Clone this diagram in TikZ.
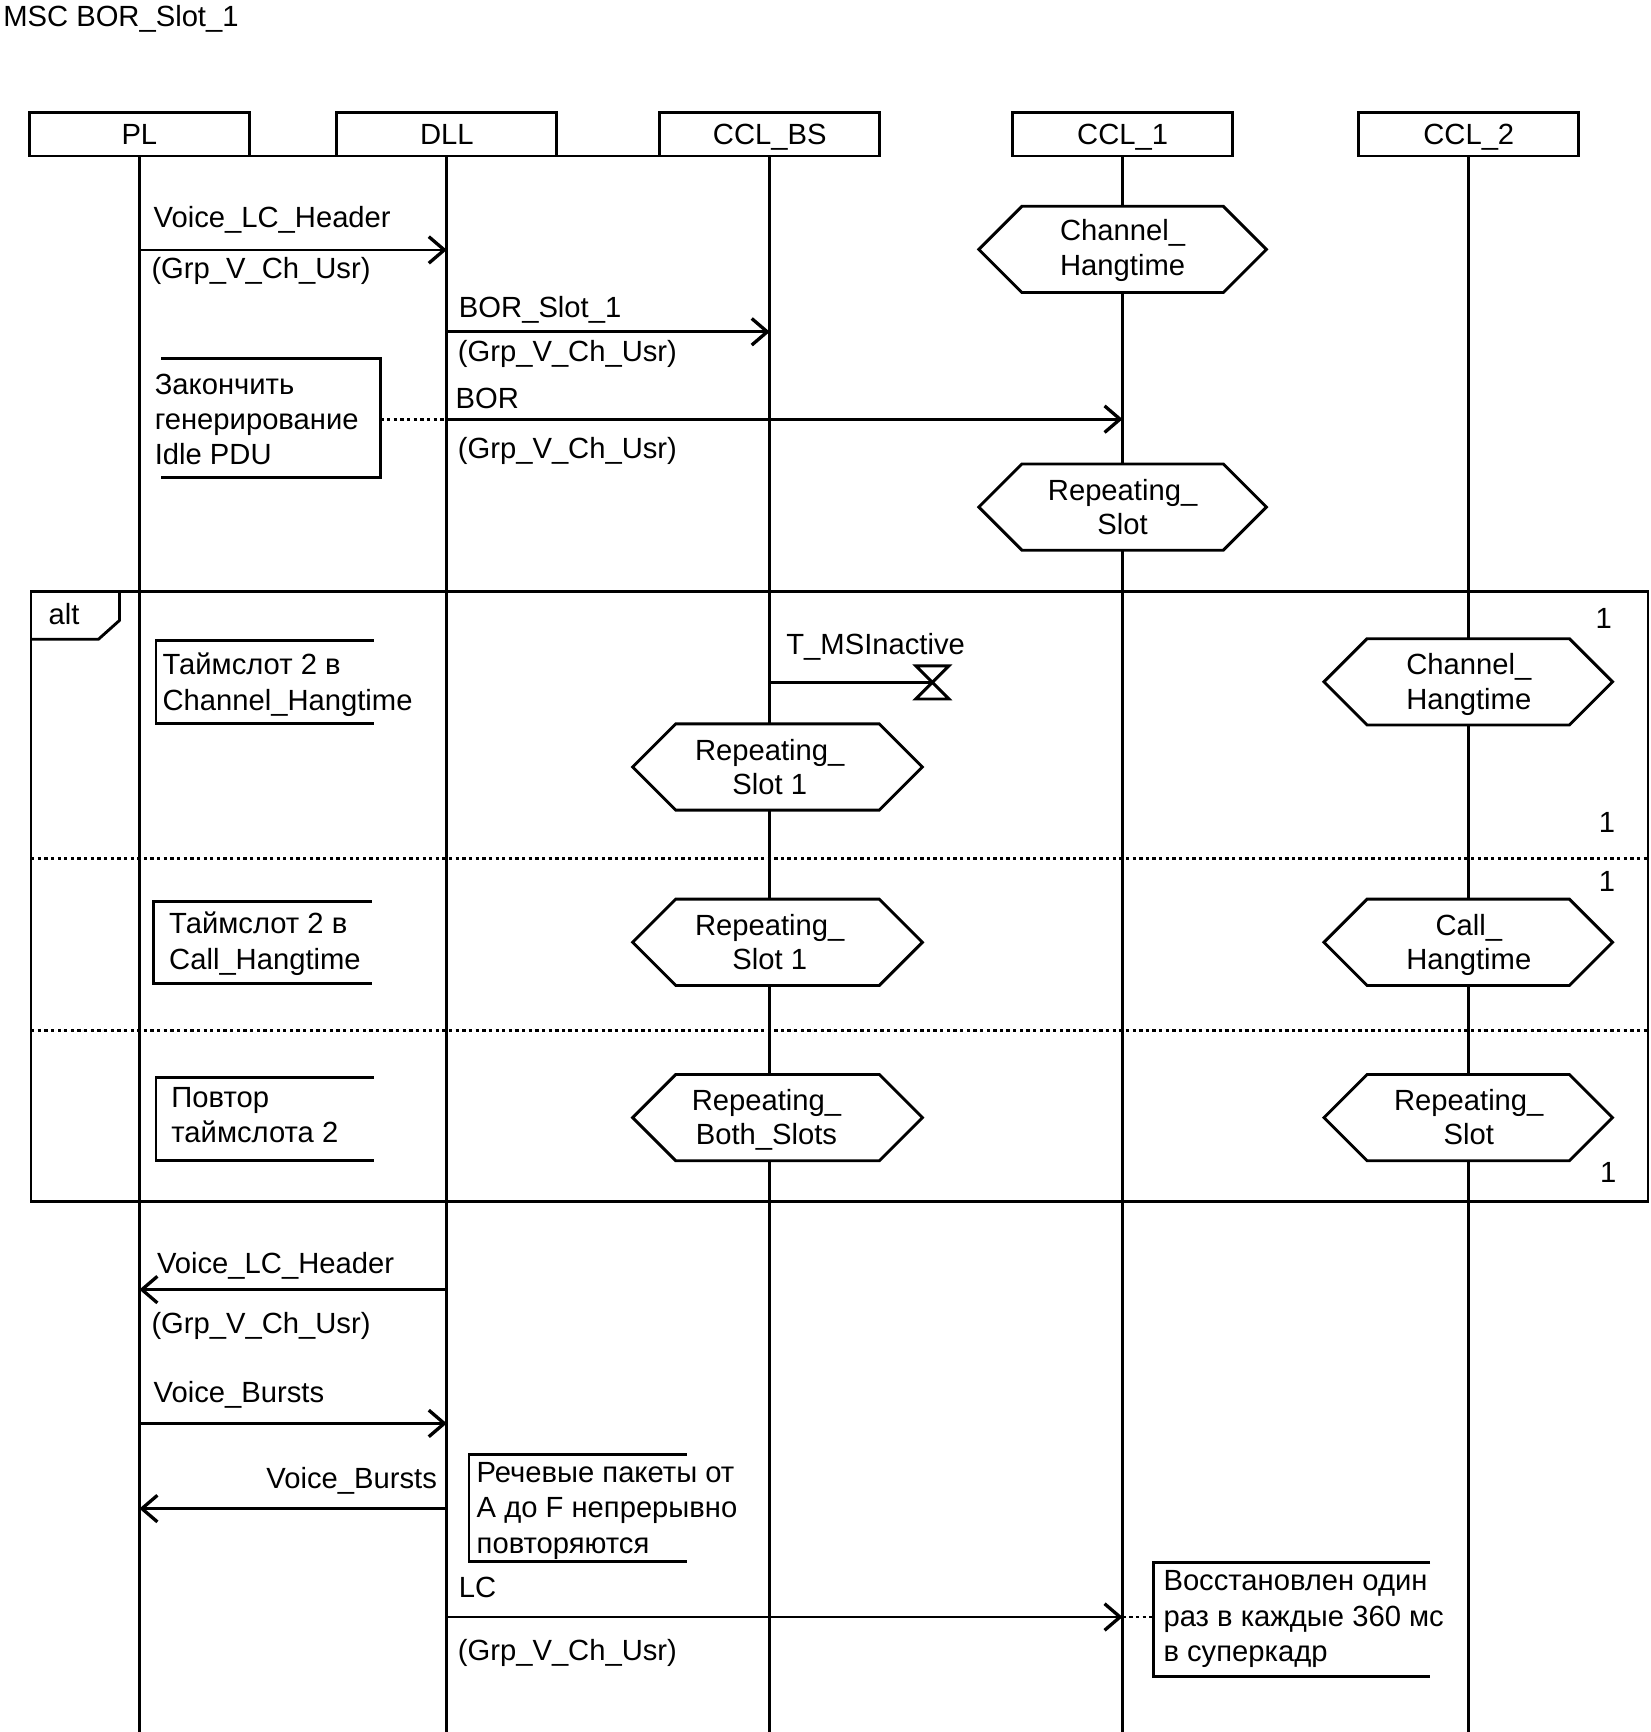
\documentclass[tikz,border=0pt]{standalone}
\usepackage{fontspec}
\setmainfont{Liberation Sans}
\usetikzlibrary{arrows.meta}
\newcommand\hexa[4]{% cx, cy, halfwidth, halfheight
  \draw[ln,fill=white] ({#1-#3},#2) -- ({#1-#3+#4},{#2-#4}) -- ({#1+#3-#4},{#2-#4}) -- ({#1+#3},#2) -- ({#1+#3-#4},{#2+#4}) -- ({#1-#3+#4},{#2+#4}) -- cycle;}
\begin{document}
\begin{tikzpicture}[x=0.5pt,y=-0.5pt,
 every node/.style={inner sep=0pt, outer sep=0pt, font=\fontsize{13.2}{16}\selectfont},
 ln/.style={line width=1.3pt},
 inst/.style={draw, line width=1.3pt, fill=white, minimum width=99.5pt, minimum height=19.5pt, text height=9.5pt, text depth=0pt},
 msg/.style={line width=1.3pt, -{Straight Barb[length=7pt,width=12pt,line width=1.5pt]}},
 lbl/.style={anchor=base west},
 num/.style={anchor=base},
 dotln/.style={line width=1.3pt, dash pattern=on 1.5pt off 1.5pt},
 sepln/.style={line width=1.2pt, dash pattern=on 1.5pt off 1.5pt},
 hextxt/.style={align=center, font=\fontsize{13.2}{15.5}\selectfont},
 note/.style={align=left, anchor=north west}]

\useasboundingbox (0,0) rectangle (1492,1566);

\node[lbl] (title) at (3,24) {MSC BOR\_Slot\_1};

% lifeline ends
\coordinate (PLend) at (126,1566);
\coordinate (DLLend) at (404,1566);
\coordinate (BSend) at (696,1566);
\coordinate (C1end) at (1015,1566);
\coordinate (C2end) at (1328,1566);

% instance heads
\node[inst] (PL) at (126,121.5) {PL};
\node[inst] (DLL) at (404,121.5) {DLL};
\node[inst] (BS) at (696,121.5) {CCL\_BS};
\node[inst] (C1) at (1015,121.5) {CCL\_1};
\node[inst] (C2) at (1328,121.5) {CCL\_2};

\draw[ln] (PL.south) -- (PLend);
\draw[ln] (DLL.south) -- (DLLend);
\draw[ln] (BS.south) -- (BSend);
\draw[ln] (C1.south) -- (C1end);
\draw[ln] (C2.south) -- (C2end);
\draw[ln] (PL.south east) -- (DLL.south west);
\draw[ln] (DLL.south east) -- (BS.south west);

% message 1
\coordinate (m1a) at (126,226); \coordinate (m1b) at (404,226);
\draw[msg] (m1a) -- (m1b);
\node[lbl] (m1l) at (139,206) {Voice\_LC\_Header};
\node[lbl] (m1p) at (137,252) {(Grp\_V\_Ch\_Usr)};

% message 2
\coordinate (m2a) at (404,300); \coordinate (m2b) at (696,300);
\draw[msg] (m2a) -- (m2b);
\node[lbl] (m2l) at (415,287) {BOR\_Slot\_1};
\node[lbl] (m2p) at (414,327) {(Grp\_V\_Ch\_Usr)};

% message 3
\coordinate (m3a) at (404,379); \coordinate (m3b) at (1015,379);
\draw[msg] (m3a) -- (m3b);
\node[lbl] (m3l) at (412,369) {BOR};
\node[lbl] (m3p) at (414,415) {(Grp\_V\_Ch\_Usr)};

% comment 1 (open left)
\draw[ln] (146,324) -- (344,324) -- (344,432) -- (146,432);
\node[note] (n1) at (140,334) {\strut Закончить\\\strut генерирование\\\strut Idle PDU};
\coordinate (n1r) at (344,379); \coordinate (n1d) at (404,379);
\draw[dotln] (n1r) -- (n1d);

% conditions on CCL_1
\hexa{1015}{225.5}{130}{39}
\node[hextxt] (h1) at (1015,227) {\strut Channel\_\\\strut Hangtime};
\hexa{1015}{458.5}{130}{39}
\node[hextxt] (h2) at (1015,461.5) {\strut Repeating\_\\\strut Slot};

% alt frame
\draw[ln] (28,535) rectangle (1490,1086);
\draw[ln] (108,535) -- (108,561) -- (89,578) -- (28,578);
\node[lbl] (altl) at (44,565) {alt};
\draw[sepln] (28,776) -- (1490,776);
\draw[sepln] (28,932) -- (1490,932);
\node[num] (n1a) at (1450,568) {1};
\node[num] (n1b) at (1453,753) {1};
\node[num] (n1c) at (1453,806) {1};
\node[num] (n1d) at (1454,1069) {1};

% region 1
\draw[ln] (338,579) -- (141,579) -- (141,654) -- (338,654);
\node[note] (r1c) at (147,587.6) {\strut Таймслот 2 в\\\strut Channel\_Hangtime};
\coordinate (t0) at (696,617); \coordinate (t1) at (843,617);
\draw[ln] (t0) -- (t1);
\draw[ln] (828,602) -- (858,602) -- (828,632) -- (858,632) -- cycle;
\node[lbl] (tl) at (711,592) {T\_MSInactive};
\hexa{703}{693.5}{131}{39}
\node[hextxt] (h3) at (696,696.5) {\strut Repeating\_\\\strut Slot 1};
\hexa{1327.5}{616.5}{130.5}{39}
\node[hextxt] (h4) at (1328,619.5) {\strut Channel\_\\\strut Hangtime};

% region 2
\draw[ln] (336,815) -- (139,815) -- (139,889) -- (336,889);
\node[note] (r2c) at (153,822) {\strut Таймслот 2 в\\\strut Call\_Hangtime};
\hexa{703}{852}{131}{39}
\node[hextxt] (h5) at (696,855) {\strut Repeating\_\\\strut Slot 1};
\hexa{1327.5}{852}{130.5}{39}
\node[hextxt] (h6) at (1328,855) {\strut Call\_\\\strut Hangtime};

% region 3
\draw[ln] (338,974) -- (141,974) -- (141,1049) -- (338,1049);
\node[note] (r3c) at (155,979) {\strut Повтор\\\strut таймслота 2};
\hexa{703}{1010.5}{131}{39}
\node[hextxt] (h7) at (693,1013.5) {\strut Repeating\_\\\strut Both\_Slots};
\hexa{1327.5}{1010.5}{130.5}{39}
\node[hextxt] (h8) at (1328,1013.5) {\strut Repeating\_\\\strut Slot};

% after alt
\coordinate (m4a) at (404,1166); \coordinate (m4b) at (126,1166);
\draw[msg] (m4a) -- (m4b);
\node[lbl] (m4l) at (142,1151) {Voice\_LC\_Header};
\node[lbl] (m4p) at (137,1206) {(Grp\_V\_Ch\_Usr)};

\coordinate (m5a) at (126,1287); \coordinate (m5b) at (404,1287);
\draw[msg] (m5a) -- (m5b);
\node[lbl] (m5l) at (139,1268) {Voice\_Bursts};

\coordinate (m6a) at (404,1364); \coordinate (m6b) at (126,1364);
\draw[msg] (m6a) -- (m6b);
\node[anchor=base east] (m6l) at (395,1346) {Voice\_Bursts};

\draw[ln] (621,1315) -- (424,1315) -- (424,1412) -- (621,1412);
\node[note] (n2) at (431,1318) {\strut Речевые пакеты от\\\strut А до F непрерывно\\\strut повторяются};

\coordinate (m7a) at (404,1462); \coordinate (m7b) at (1015,1462);
\draw[msg] (m7a) -- (m7b);
\node[lbl] (m7l) at (415,1444) {LC};
\node[lbl] (m7p) at (414,1501) {(Grp\_V\_Ch\_Usr)};

\draw[ln] (1293,1413) -- (1043,1413) -- (1043,1516) -- (1293,1516);
\node[note] (n3) at (1052,1416) {\strut Восстановлен один\\\strut раз в каждые 360 мс\\\strut в суперкадр};
\coordinate (n3l) at (1043,1462); \coordinate (n3d) at (1015,1462);
\draw[dotln] (n3d) -- (n3l);

\end{tikzpicture}
\end{document}
